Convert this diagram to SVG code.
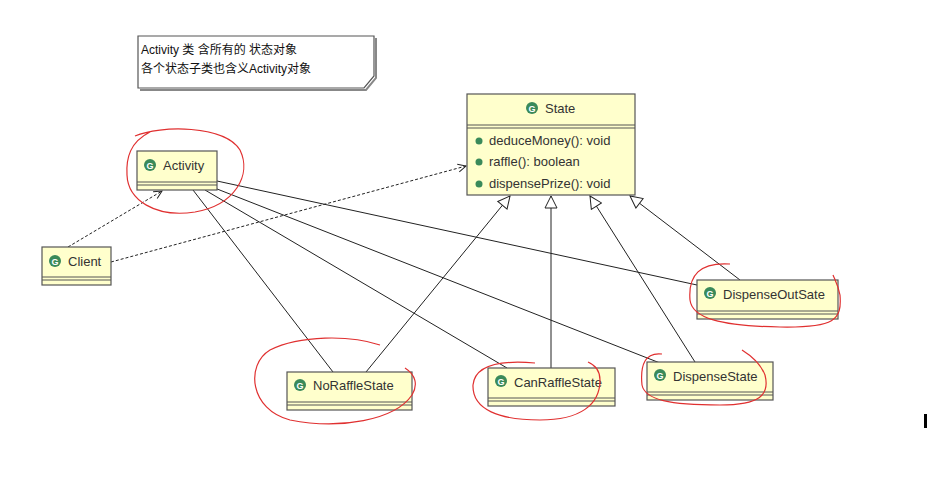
<svg xmlns="http://www.w3.org/2000/svg" width="929" height="500" viewBox="0 0 929 500">
<style>
.box{fill:#ffffcc;stroke:#555;stroke-width:1.2}
.sep{stroke:#555;stroke-width:1}
.t{font-family:"Liberation Sans",Arial,sans-serif;font-size:13px;fill:#333}
.n{font-family:"Liberation Sans","Noto Sans CJK SC",sans-serif;font-size:12px;fill:#111}
.ic{fill:#3a8a5a}
.ict{font-family:"Liberation Sans",sans-serif;font-size:9px;font-weight:bold;fill:#fff}
.red{fill:none;stroke:#e03030;stroke-width:1.2}
.ln{stroke:#222;stroke-width:1;fill:none}
.dash{stroke:#222;stroke-width:1;fill:none;stroke-dasharray:3,2}
</style>
<defs>
<marker id="tri" markerWidth="14" markerHeight="14" refX="13" refY="7" orient="auto" markerUnits="userSpaceOnUse"><path d="M1,1 L13,7 L1,13 Z" fill="#fff" stroke="#222"/></marker>
<marker id="open" markerWidth="10" markerHeight="10" refX="9" refY="5" orient="auto" markerUnits="userSpaceOnUse"><path d="M1,1 L9,5 L1,9" fill="none" stroke="#222"/></marker>
<symbol id="g" viewBox="0 0 12 12"><circle cx="6" cy="6" r="6" fill="#3a8a5a"/><text x="6" y="9.5" text-anchor="middle" class="ict">G</text></symbol>
</defs>
<rect width="929" height="500" fill="#fff"/>
<g id="note">
<path d="M138,36 H374 V76 L364,88 H138 Z" fill="#fff" stroke="#555" stroke-width="1.2"/>
<path d="M140,90 H366 L376,78 V38" fill="none" stroke="#888" stroke-width="2"/>
<text x="141" y="54" class="n">Activity 类 含所有的 状态对象</text>
<text x="141" y="73" class="n">各个状态子类也含义Activity对象</text>
</g>
<g id="connectors">
<line x1="217" y1="181" x2="697" y2="285" class="ln"/>
<line x1="212" y1="187" x2="660" y2="363" class="ln"/>
<line x1="205" y1="190" x2="507" y2="368" class="ln"/>
<line x1="193" y1="190" x2="333" y2="372" class="ln"/>
<line x1="366" y1="372" x2="510" y2="196" class="ln" marker-end="url(#tri)"/>
<line x1="551" y1="368" x2="551" y2="196" class="ln" marker-end="url(#tri)"/>
<line x1="695" y1="362" x2="590" y2="196" class="ln" marker-end="url(#tri)"/>
<line x1="740" y1="280" x2="630" y2="196" class="ln" marker-end="url(#tri)"/>
<line x1="111" y1="262" x2="466" y2="166" class="dash" marker-end="url(#open)"/>
<line x1="68" y1="247" x2="162" y2="191" class="dash" marker-end="url(#open)"/>
</g>
<g id="State">
<rect x="467" y="94" width="168" height="101" class="box"/>
<line x1="467" y1="125" x2="635" y2="125" class="sep"/><line x1="467" y1="128" x2="635" y2="128" class="sep"/>
<use href="#g" x="526" y="102" width="12" height="12"/>
<text x="545" y="113" class="t">State</text>
<circle cx="479" cy="141" r="3.5" class="ic"/><text x="489" y="145" class="t">deduceMoney(): void</text>
<circle cx="479" cy="162" r="3.5" class="ic"/><text x="489" y="166" class="t">raffle(): boolean</text>
<circle cx="479" cy="184" r="3.5" class="ic"/><text x="489" y="188" class="t">dispensePrize(): void</text>
</g>
<g id="Activity">
<rect x="137" y="151" width="80" height="39" class="box"/>
<line x1="137" y1="182" x2="217" y2="182" class="sep"/><line x1="137" y1="185" x2="217" y2="185" class="sep"/>
<use href="#g" x="144" y="159" width="12" height="12"/>
<text x="163" y="170" class="t">Activity</text>
<path d="M135,136 C160,125 225,125 240,150 C252,175 235,205 195,212 C155,218 128,200 127,175 C126,158 130,142 150,132" class="red"/>
</g>
<g id="Client">
<rect x="42" y="247" width="69" height="38" class="box"/>
<line x1="42" y1="277" x2="111" y2="277" class="sep"/><line x1="42" y1="280" x2="111" y2="280" class="sep"/>
<use href="#g" x="49" y="255" width="12" height="12"/>
<text x="68" y="266" class="t">Client</text>
</g>
<g id="NoRaffleState">
<rect x="287" y="372" width="125" height="38" class="box"/>
<line x1="287" y1="402" x2="412" y2="402" class="sep"/><line x1="287" y1="405" x2="412" y2="405" class="sep"/>
<use href="#g" x="294" y="379" width="12" height="12"/>
<text x="313" y="390" class="t">NoRaffleState</text>
<path d="M380,345 C350,335 300,335 270,350 C245,365 250,410 290,420 C340,430 395,420 412,395 C418,385 416,375 405,368" class="red"/>
</g>
<g id="CanRaffleState">
<rect x="488" y="368" width="127" height="38" class="box"/>
<line x1="488" y1="398" x2="615" y2="398" class="sep"/><line x1="488" y1="401" x2="615" y2="401" class="sep"/>
<use href="#g" x="495" y="375" width="12" height="12"/>
<text x="514" y="387" class="t">CanRaffleState</text>
<path d="M535,363 C500,360 475,365 473,385 C472,410 500,420 540,420 C580,420 600,405 600,380 C600,370 595,365 588,362" class="red"/>
</g>
<g id="DispenseState">
<rect x="647" y="362" width="126" height="38" class="box"/>
<line x1="647" y1="392" x2="773" y2="392" class="sep"/><line x1="647" y1="395" x2="773" y2="395" class="sep"/>
<use href="#g" x="654" y="369" width="12" height="12"/>
<text x="673" y="381" class="t">DispenseState</text>
<path d="M662,354 C645,352 640,365 642,385 C645,400 670,405 720,405 C760,405 770,395 765,375 C760,362 750,355 742,350" class="red"/>
</g>
<g id="DispenseOutSate">
<rect x="697" y="280" width="141" height="39" class="box"/>
<line x1="697" y1="311" x2="838" y2="311" class="sep"/><line x1="697" y1="314" x2="838" y2="314" class="sep"/>
<use href="#g" x="704" y="287" width="12" height="12"/>
<text x="723" y="299" class="t">DispenseOutSate</text>
<path d="M730,264 C700,262 688,275 690,300 C692,318 720,326 780,327 C835,328 842,320 840,295 C838,285 835,280 833,275" class="red"/>
</g>
<rect x="924" y="414" width="3" height="14" fill="#000"/>
</svg>
